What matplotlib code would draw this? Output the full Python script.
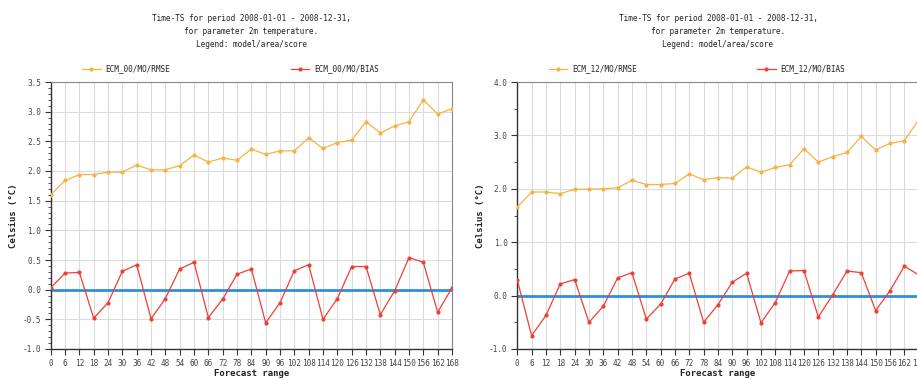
import matplotlib
matplotlib.use("Agg")
import matplotlib.pyplot as plt
import numpy as np
from matplotlib.ticker import MultipleLocator, FormatStrFormatter

# ---- data ----
forecast_range = list(range(0, 169, 6))

rmse_00 = [1.60, 1.84, 1.94, 1.94, 1.98, 1.98, 2.10, 2.02, 2.02, 2.09,
           2.27, 2.15, 2.22, 2.18, 2.37, 2.28, 2.34, 2.34, 2.56, 2.38,
           2.48, 2.52, 2.83, 2.64, 2.76, 2.83, 3.20, 2.96, 3.05]
bias_00 = [0.03, 0.28, 0.29, -0.48, -0.22, 0.31, 0.42, -0.49, -0.15, 0.35,
           0.46, -0.47, -0.16, 0.26, 0.35, -0.56, -0.22, 0.32, 0.42, -0.50,
           -0.15, 0.39, 0.39, -0.42, -0.02, 0.54, 0.46, -0.38, 0.03]

rmse_12 = [1.66, 1.94, 1.94, 1.91, 1.99, 1.99, 2.00, 2.02, 2.16, 2.08,
           2.08, 2.10, 2.28, 2.17, 2.21, 2.20, 2.41, 2.31, 2.40, 2.45,
           2.75, 2.50, 2.60, 2.68, 2.98, 2.73, 2.85, 2.90, 3.29]
bias_12 = [0.29, -0.75, -0.37, 0.22, 0.30, -0.50, -0.20, 0.33, 0.43, -0.44,
           -0.16, 0.31, 0.42, -0.50, -0.17, 0.25, 0.42, -0.51, -0.13, 0.46,
           0.47, -0.40, 0.01, 0.46, 0.43, -0.28, 0.09, 0.55, 0.39]

labels_00 = ["ECM_00/MO/RMSE", "ECM_00/MO/BIAS"]
labels_12 = ["ECM_12/MO/RMSE", "ECM_12/MO/BIAS"]
title_text = ("Time-TS for period 2008-01-01 - 2008-12-31,\n"
              "for parameter 2m temperature.\n"
              "Legend: model/area/score")
xlabel_text = "Forecast range"
ylabel_text = "Celsius (°C)"

# ---- style ----
W, H = 917, 379
fig = plt.figure(figsize=(W / 100, H / 100), dpi=100)
mono = "DejaVu Sans Mono"
RMSE_C = "#f5b342"
BIAS_C = "#ee4035"
ZERO_C = "#2f8fd8"
GRID_C = "#dcdcdc"
TXT_C = "#444444"

panels = [
    dict(rect=[50.7 / W, 1 - 349 / H, (452 - 50.7) / W, (349 - 82) / H],
         rmse=rmse_00, bias=bias_00, labels=labels_00,
         ylim=(-1.0, 3.5), major=0.5, minor=0.1),
    dict(rect=[517.3 / W, 1 - 349 / H, (918.6 - 517.3) / W, (349 - 82) / H],
         rmse=rmse_12, bias=bias_12, labels=labels_12,
         ylim=(-1.0, 4.0), major=1.0, minor=0.5),
]

for p in panels:
    ax = fig.add_axes(p["rect"])
    ax.set_xlim(0, 168)
    ax.set_ylim(*p["ylim"])
    ax.axhline(0, color=ZERO_C, lw=2.0, zorder=2)
    l1, = ax.plot(forecast_range, p["rmse"], color=RMSE_C, lw=0.9,
                  marker="o", ms=2.0, zorder=3, label=p["labels"][0])
    l2, = ax.plot(forecast_range, p["bias"], color=BIAS_C, lw=0.9,
                  marker="o", ms=2.0, zorder=3, label=p["labels"][1])
    ax.set_xticks(forecast_range)
    ax.set_xticklabels([str(v) for v in forecast_range])
    ax.yaxis.set_major_locator(MultipleLocator(p["major"]))
    ax.yaxis.set_minor_locator(MultipleLocator(p["minor"]))
    ax.yaxis.set_major_formatter(FormatStrFormatter("%.1f"))
    ax.grid(True, which="major", color=GRID_C, lw=0.8, zorder=0)
    ax.set_axisbelow(True)
    for s in ["left", "bottom"]:
        ax.spines[s].set_color("#333333")
        ax.spines[s].set_linewidth(1.0)
    for s in ["top", "right"]:
        ax.spines[s].set_color("#888888")
        ax.spines[s].set_linewidth(0.8)
    ax.tick_params(axis="both", which="major", direction="out", length=4,
                   width=0.8, color="#333333", labelsize=5.6,
                   labelcolor=TXT_C, pad=3)
    ax.tick_params(axis="y", which="minor", direction="out", length=2.5,
                   width=0.6, color="#333333")
    for t in ax.get_xticklabels() + ax.get_yticklabels():
        t.set_family(mono)
    ax.set_xlabel(xlabel_text, fontsize=6.5, fontweight="bold",
                  family=mono, color="#222222", labelpad=1)
    ax.set_ylabel(ylabel_text, fontsize=6.5, fontweight="bold",
                  family=mono, color="#222222", labelpad=3)
    ax.set_title(title_text, fontsize=5.6, family=mono, color="#222222",
                 pad=25, linespacing=1.6)
    leg = ax.legend(handles=[l1, l2], ncol=2, loc="lower left",
                    bbox_to_anchor=(0.07, 1.02), frameon=False,
                    prop={"family": mono, "size": 5.6},
                    handlelength=2.4, handletextpad=0.6,
                    columnspacing=15.5, borderaxespad=0)
    for t in leg.get_texts():
        t.set_color("#222222")

fig.savefig("out.png", dpi=100)
